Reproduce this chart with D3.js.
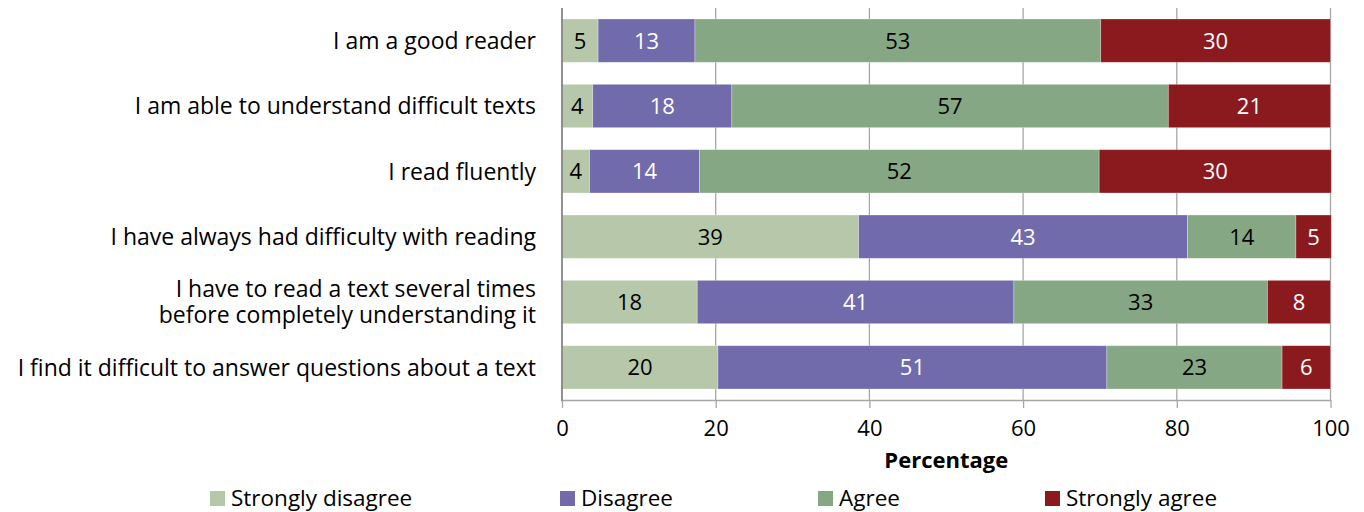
<!DOCTYPE html>
<html>
<head>
<meta charset="utf-8">
<script src="https://cdn.jsdelivr.net/npm/d3@7"></script>
<style>
  html, body { margin: 0; padding: 0; background: #fff; }
  svg { display: block; }
  text { font-family: "Open Sans", Lato, sans-serif; }
</style>
</head>
<body>
<svg id="chart" width="1364" height="512"></svg>
<script>
// ---- data ----
const categories = [
  ["I am a good reader"],
  ["I am able to understand difficult texts"],
  ["I read fluently"],
  ["I have always had difficulty with reading"],
  ["I have to read a text several times", "before completely understanding it"],
  ["I find it difficult to answer questions about a text"]
];
const seriesNames = ["Strongly disagree", "Disagree", "Agree", "Strongly agree"];
const stronglyDisagree = [4.7, 4.0, 3.6, 38.6, 17.6, 20.3];
const disagree         = [12.6, 18.1, 14.3, 42.8, 41.2, 50.6];
const agree            = [52.8, 56.8, 52.0, 14.1, 33.0, 22.8];
const stronglyAgree    = [29.9, 21.1, 30.2, 4.6, 8.2, 6.3];
const xTicks = [0, 20, 40, 60, 80, 100];
const xTitle = "Percentage";

const colors = ["#B6C8A9", "#716BAC", "#86A784", "#8B1A1F"];
const labelColors = ["#000", "#fff", "#000", "#fff"];

// ---- layout ----
const svg = d3.select("#chart");
const pLeft = 562, pRight = 1330.5, pTop = 8, pBottom = 400;
const FS = 23;

const rows = categories.map((c, i) => ({
  key: i,
  "Strongly disagree": stronglyDisagree[i],
  "Disagree": disagree[i],
  "Agree": agree[i],
  "Strongly agree": stronglyAgree[i]
}));

const x = d3.scaleLinear().domain([0, 100]).range([pLeft, pRight]);
const y = d3.scaleBand().domain(d3.range(categories.length)).range([pTop, pBottom]).paddingInner(0.337).paddingOuter(0.168);

// gridlines
svg.append("g").selectAll("line").data(xTicks.filter(t => t > 0)).join("line")
  .attr("x1", d => x(d)).attr("x2", d => x(d))
  .attr("y1", pTop).attr("y2", pBottom)
  .attr("stroke", "#A6A6A6").attr("stroke-width", 1.3);

// bars
const stack = d3.stack().keys(seriesNames);
const stacked = stack(rows);

const gBars = svg.append("g");
stacked.forEach((layer, si) => {
  const g = gBars.append("g");
  g.selectAll("rect").data(layer).join("rect")
    .attr("x", d => x(d[0]))
    .attr("y", (d, i) => y(i))
    .attr("width", d => x(d[1]) - x(d[0]))
    .attr("height", y.bandwidth())
    .attr("fill", colors[si])
    .attr("stroke", "#ffffff").attr("stroke-opacity", 0.35).attr("stroke-width", 0.8);
  g.selectAll("text").data(layer).join("text")
    .attr("x", d => (x(d[0]) + x(d[1])) / 2)
    .attr("y", (d, i) => y(i) + y.bandwidth() / 2)
    .attr("dy", "0.36em")
    .attr("text-anchor", "middle")
    .attr("font-size", 22)
    .attr("fill", labelColors[si])
    .text(d => d3.format(".0f")(d[1] - d[0]));
});

// x axis
const axisG = svg.append("g").attr("transform", `translate(0,${pBottom})`);
const xAxis = d3.axisBottom(x).tickValues(xTicks).tickSize(8).tickPadding(12).tickSizeOuter(0);
axisG.call(xAxis);
axisG.select(".domain").attr("stroke", "#A6A6A6").attr("stroke-width", 1.5);
axisG.selectAll(".tick line").attr("stroke", "#A6A6A6").attr("stroke-width", 1.3);
axisG.selectAll(".tick text").attr("font-size", 22).attr("fill", "#000").attr("font-family", "'Open Sans', sans-serif");

// left axis line
svg.append("line").attr("x1", pLeft).attr("x2", pLeft).attr("y1", pTop).attr("y2", pBottom + 1)
  .attr("stroke", "#868686").attr("stroke-width", 1.8);

// x title
svg.append("text").attr("x", (pLeft + pRight) / 2).attr("y", 468)
  .attr("text-anchor", "middle").attr("font-size", 22).attr("font-weight", "bold")
  .text(xTitle);

// category labels
const catG = svg.append("g");
categories.forEach((lines, i) => {
  const cy = y(i) + y.bandwidth() / 2;
  const lh = 26;
  lines.forEach((ln, j) => {
    catG.append("text").attr("text-anchor", "end").attr("font-size", FS).attr("fill", "#000")
      .attr("x", 536)
      .attr("y", cy + (j - (lines.length - 1) / 2) * lh)
      .attr("dy", "0.36em").text(ln);
  });
});

// legend
const legendX = [210, 560, 818, 1045];
const legG = svg.append("g");
seriesNames.forEach((s, i) => {
  legG.append("rect").attr("x", legendX[i]).attr("y", 491).attr("width", 15).attr("height", 15).attr("fill", colors[i]);
  legG.append("text").attr("x", legendX[i] + 21).attr("y", 497.5).attr("dy", "0.36em")
    .attr("font-size", 22.5).attr("fill", "#000").text(s);
});
</script>
</body>
</html>
